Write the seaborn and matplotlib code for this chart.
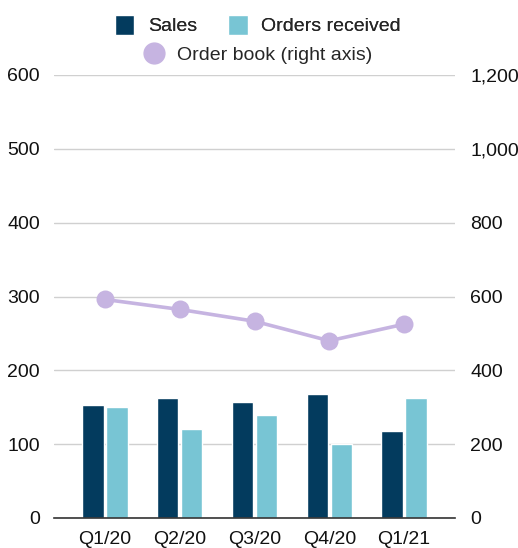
import matplotlib
matplotlib.use("Agg")
import matplotlib.pyplot as plt
import seaborn as sns
import pandas as pd
from matplotlib.lines import Line2D
from matplotlib.patches import Patch

quarters = ["Q1/20", "Q2/20", "Q3/20", "Q4/20", "Q1/21"]
sales = [153, 162, 157, 168, 118]
orders_received = [150, 121, 139, 100, 162]
order_book = [592, 565, 533, 480, 525]
left_ticks = [0, 100, 200, 300, 400, 500, 600]
right_ticks = [0, 200, 400, 600, 800, 1000, 1200]

C_SALES = "#033B5E"
C_ORDERS = "#78C5D4"
C_BOOK = "#C6B4E1"

sns.set_theme(style="white")
plt.rcParams["font.family"] = ["Liberation Sans", "DejaVu Sans"]

df = pd.DataFrame({
    "quarter": quarters * 2,
    "value": sales + orders_received,
    "series": ["Sales"] * len(quarters) + ["Orders received"] * len(quarters),
})
dfl = pd.DataFrame({"quarter": quarters, "value": order_book})

fig = plt.figure(figsize=(5.18, 5.48), dpi=100)
ax = fig.add_axes([54 / 518, 30 / 548, 401 / 518, 443 / 548])

sns.barplot(data=df, x="quarter", y="value", hue="series", order=quarters,
            hue_order=["Sales", "Orders received"],
            palette=[C_SALES, C_ORDERS], width=0.64, gap=0.1,
            ax=ax, legend=False, zorder=3, saturation=1)
ax.set_xlim(-0.68, 4.68)
ax.set_ylim(0, 600)
ax.set_yticks(left_ticks)
ax.set_yticklabels([str(t) for t in left_ticks])
ax.grid(axis="y", color="#D0D0D0", linewidth=1.0, zorder=0)
ax.set_axisbelow(True)
for s in ["top", "right", "left"]:
    ax.spines[s].set_visible(False)
ax.spines["bottom"].set_color("#333333")
ax.spines["bottom"].set_linewidth(1.2)
ax.spines["bottom"].set_zorder(5)
ax.set_xlabel("")
ax.set_ylabel("")
ax.tick_params(axis="both", length=0, labelsize=14, colors="#111111")
ax.tick_params(axis="y", pad=10)
ax.tick_params(axis="x", pad=9)

ax2 = ax.twinx()
sns.pointplot(data=dfl, x="quarter", y="value", order=quarters, color=C_BOOK,
              ax=ax2, markers="o", markersize=11, linewidth=2.6, errorbar=None)
ax2.set_xlim(-0.68, 4.68)
ax2.set_ylim(0, 1200)
ax2.set_yticks(right_ticks)
ax2.set_yticklabels([f"{t:,}" for t in right_ticks])
ax2.grid(False)
for s in ["top", "right", "left", "bottom"]:
    ax2.spines[s].set_visible(False)
ax2.set_ylabel("")
ax2.set_xlabel("")
ax2.tick_params(axis="y", length=0, labelsize=14, colors="#111111", pad=11)

h1 = [Patch(facecolor=C_SALES, label="Sales"),
      Patch(facecolor=C_ORDERS, label="Orders received")]
leg1 = fig.legend(handles=h1, loc="center", bbox_to_anchor=(258 / 518, 1 - 25 / 548),
                  ncol=2, frameon=False, fontsize=14, handlelength=1.0, handleheight=1.25,
                  handletextpad=0.7, columnspacing=1.6, borderpad=0)
h2 = [Line2D([0], [0], marker="o", color="none", markerfacecolor=C_BOOK,
             markeredgecolor=C_BOOK, markersize=15, label="Order book (right axis)")]
leg2 = fig.legend(handles=h2, loc="center", bbox_to_anchor=(258 / 518, 1 - 55 / 548),
                  frameon=False, fontsize=14, handlelength=1.0, handletextpad=0.7,
                  borderpad=0)
fig.add_artist(leg1)

fig.savefig("out.png", dpi=100)
